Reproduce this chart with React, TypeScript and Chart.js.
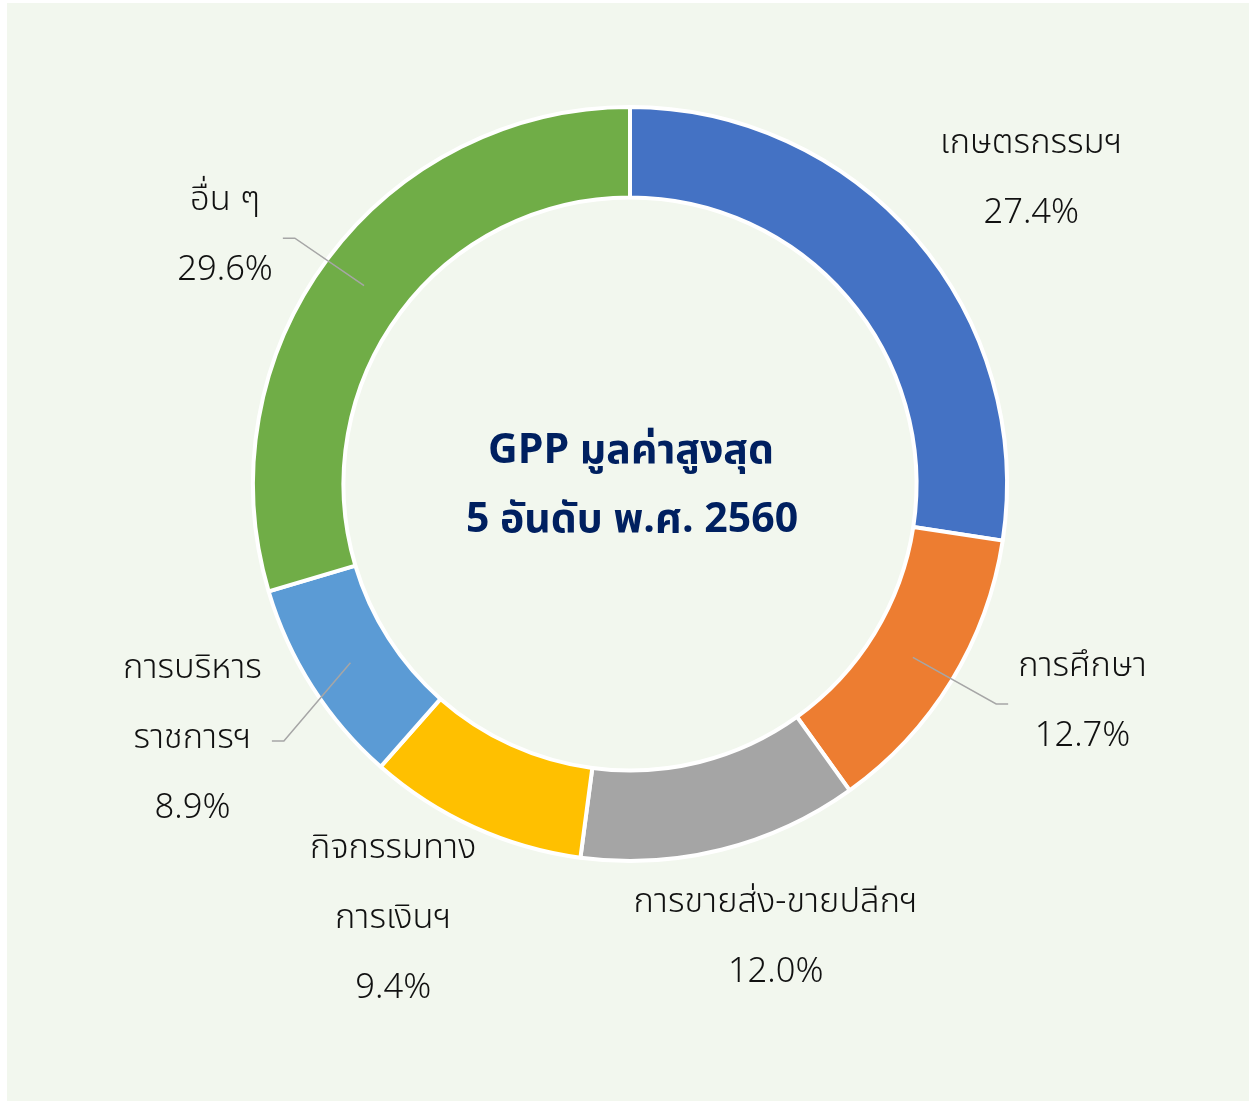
import React, { useEffect, useRef } from "react";
import { Chart, registerables } from "chart.js";

Chart.register(...registerables);

const categories: string[][] = [
  ["เกษตรกรรมฯ"],
  ["การศึกษา"],
  ["การขายส่ง-ขายปลีกฯ"],
  ["กิจกรรมทาง", "การเงินฯ"],
  ["การบริหาร", "ราชการฯ"],
  ["อื่น ๆ"],
];
const shares: number[] = [27.4, 12.7, 12.0, 9.4, 8.9, 29.6];
const centerTitle: string[] = ["GPP มูลค่าสูงสุด", "5 อันดับ พ.ศ. 2560"];

const colors = ["#4472C4", "#ED7D31", "#A5A5A5", "#FFC000", "#5B9BD5", "#70AD47"];
// label placement relative to a point at 1.33 * outer radius along slice mid-angle
const labelAdjust = [
  { dx: 21, dy: 24, leader: false },
  { dx: 25, dy: -42, leader: true },
  { dx: 24, dy: -30, leader: false },
  { dx: -29, dy: -19, leader: false },
  { dx: -15, dy: -13, leader: true },
  { dx: -3, dy: 54, leader: true },
];

const LABEL_FONT = '300 34.5px "Noto Sans Thai", "Noto Sans Thai Looped", "Noto Sans", sans-serif';
const CENTER_FONT = 'bold 41px "Noto Sans Thai", "Noto Sans", sans-serif';
const LINE_H = 70;

const labelPlugin = {
  id: "outLabels",
  afterDraw(chart: any) {
    const ctx = chart.ctx;
    const meta = chart.getDatasetMeta(0);
    ctx.save();
    meta.data.forEach((arc: any, i: number) => {
      const p = arc.getProps(["x", "y", "startAngle", "endAngle", "innerRadius", "outerRadius"], true);
      const mid = (p.startAngle + p.endAngle) / 2;
      const cos = Math.cos(mid);
      const sin = Math.sin(mid);
      const adj = labelAdjust[i];
      const cx = p.x + cos * p.outerRadius * 1.33 + adj.dx;
      const cy = p.y + sin * p.outerRadius * 1.33 + adj.dy;
      const lines = [...categories[i], shares[i].toFixed(1) + "%"];
      ctx.font = LABEL_FONT;
      ctx.fillStyle = "#111111";
      ctx.textAlign = "center";
      ctx.textBaseline = "middle";
      const top = cy - ((lines.length - 1) * LINE_H) / 2;
      let maxW = 0;
      lines.forEach((t, k) => {
        ctx.fillText(t, cx, top + k * LINE_H);
        maxW = Math.max(maxW, ctx.measureText(t).width);
      });
      if (adj.leader) {
        const r = (p.innerRadius + p.outerRadius) / 2;
        const sx = p.x + cos * r;
        const sy = p.y + sin * r;
        const right = cos > 0;
        const edge = right ? cx - maxW / 2 : cx + maxW / 2;
        const endX = right ? edge - 10 : edge + 10;
        const elbowX = right ? edge - 22 : edge + 22;
        ctx.strokeStyle = "#A6A6A6";
        ctx.lineWidth = 1.5;
        ctx.beginPath();
        ctx.moveTo(sx, sy);
        ctx.lineTo(elbowX, cy);
        ctx.lineTo(endX, cy);
        ctx.stroke();
      }
    });
    // centre title
    const a0 = meta.data[0];
    ctx.font = CENTER_FONT;
    ctx.fillStyle = "#002060";
    ctx.textAlign = "center";
    ctx.textBaseline = "middle";
    ctx.fillText(centerTitle[0], a0.x + 1, a0.y - 29);
    ctx.fillText(centerTitle[1], a0.x + 2, a0.y + 40);
    ctx.restore();
  },
};

export default function App() {
  const ref = useRef<HTMLCanvasElement | null>(null);
  useEffect(() => {
    if (!ref.current) return;
    const chart = new Chart(ref.current, {
      type: "doughnut",
      data: {
        labels: categories.map((c) => c.join("")),
        datasets: [
          {
            data: shares,
            backgroundColor: colors,
            borderColor: "#FFFFFF",
            borderWidth: 4,
          },
        ],
      },
      options: {
        animation: false,
        responsive: false,
        cutout: "76%",
        layout: { padding: { left: 244, right: 240, top: 102, bottom: 238 } },
        plugins: { legend: { display: false }, tooltip: { enabled: false } },
      },
      plugins: [labelPlugin],
    });
    return () => chart.destroy();
  }, []);
  return (
    <div
      style={{
        position: "absolute",
        left: 7,
        top: 3,
        width: 1242,
        height: 1098,
        background: "#F2F7EE",
      }}
    >
      <canvas ref={ref} width={1242} height={1098} style={{ display: "block" }} />
    </div>
  );
}
